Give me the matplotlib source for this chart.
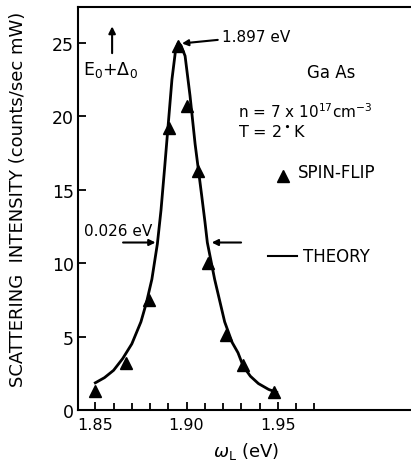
import matplotlib
matplotlib.use('Agg')
import matplotlib.pyplot as plt

# spin-flip data points (triangles)
sf_x = [1.850, 1.8667, 1.8794, 1.8904, 1.8954, 1.9001, 1.9065, 1.9118, 1.9218, 1.9309, 1.9479]
sf_y = [1.3, 3.2, 7.5, 19.2, 24.8, 20.7, 16.3, 10.0, 5.1, 3.05, 1.2]

# theory curve
th_x = [1.850, 1.855, 1.860, 1.865, 1.870, 1.875, 1.878, 1.881, 1.884, 1.886, 1.888,
        1.890, 1.892, 1.894, 1.8955, 1.897, 1.8992, 1.9019, 1.9047, 1.9083, 1.9101,
        1.9114, 1.9154, 1.9209, 1.925, 1.9282, 1.931, 1.935, 1.9394, 1.945, 1.9494]
th_y = [1.85, 2.2, 2.7, 3.5, 4.5, 6.0, 7.3, 8.9, 11.3, 13.6, 16.5,
        19.5, 22.5, 24.5, 25.0, 24.8, 24.1, 21.4, 18.1, 14.6, 12.8,
        11.4, 8.9, 6.0, 4.6, 3.9, 3.0, 2.3, 1.8, 1.4, 1.2]

x_major = [1.85, 1.90, 1.95]
x_minor = [1.86, 1.87, 1.88, 1.89, 1.91, 1.92, 1.93, 1.94, 1.96, 1.97]
y_major = [0, 5, 10, 15, 20, 25]

fig = plt.figure(figsize=(4.11, 4.64), dpi=100)
ax = fig.add_axes([78 / 411, 53 / 464, 332 / 411, 403 / 464])

ax.plot(th_x, th_y, color='black', lw=2.0)
ax.plot(sf_x, sf_y, '^', color='black', ms=8.5)

ax.set_xlim(1.8405, 2.0225)
ax.set_ylim(0, 27.43)

ax.spines['right'].set_visible(False)
for s in ['left', 'top', 'bottom']:
    ax.spines[s].set_linewidth(1.5)

ax.set_xticks(x_major)
ax.set_xticklabels(['1.85', '1.90', '1.95'])
ax.set_xticks(x_minor, minor=True)
ax.set_yticks(y_major)
ax.tick_params(axis='x', which='major', direction='in', length=6, width=1.3, labelsize=11.5, pad=5)
ax.tick_params(axis='x', which='minor', direction='in', length=5, width=1.3)
ax.tick_params(axis='y', direction='in', length=6, width=1.3, labelsize=12.5, pad=3)

ax.set_ylabel('SCATTERING  INTENSITY (counts/sec mW)', fontsize=13)
ax.yaxis.set_label_coords(-0.155, 0.525)
ax.set_xlabel(r'$\omega_\mathrm{L}$ (eV)', fontsize=13)
ax.xaxis.set_label_coords(0.507, -0.075)

# E0 + Delta0 marker
ax.annotate('', xy=(1.8592, 26.3), xytext=(1.8592, 24.1),
            arrowprops=dict(arrowstyle='-|>', color='black', lw=1.5, mutation_scale=10))
ax.text(1.8432, 23.2, r'E$_0$+$\Delta_0$', fontsize=12.5, va='center', ha='left')

# peak label
ax.annotate('1.897 eV', xy=(1.8975, 24.95), xytext=(1.9194, 25.45),
            fontsize=11, va='center', ha='left',
            arrowprops=dict(arrowstyle='-|>', color='black', lw=1.5,
                            mutation_scale=9, shrinkA=1, shrinkB=0))

# FWHM arrows
ax.annotate('', xy=(1.8830, 11.4), xytext=(1.8652, 11.4),
            arrowprops=dict(arrowstyle='-|>', color='black', lw=1.5, mutation_scale=9,
                            shrinkA=0, shrinkB=0))
ax.annotate('', xy=(1.9138, 11.4), xytext=(1.9299, 11.4),
            arrowprops=dict(arrowstyle='-|>', color='black', lw=1.5, mutation_scale=9,
                            shrinkA=0, shrinkB=0))
ax.text(1.8438, 12.2, '0.026 eV', fontsize=11, va='center', ha='left')

ax.text(1.9795, 23.0, 'Ga As', fontsize=12, va='center', ha='center')
ax.text(1.9282, 20.4, r'n = 7 x 10$^{17}$cm$^{-3}$', fontsize=11, va='center', ha='left')
ax.text(1.9282, 19.0, 'T = 2$^\\bullet$K', fontsize=11.5, va='center', ha='left')

ax.plot([1.9527], [15.9], '^', color='black', ms=8)
ax.text(1.961, 16.2, 'SPIN-FLIP', fontsize=12, va='center', ha='left')
ax.plot([1.9446, 1.9605], [10.45, 10.45], color='black', lw=1.5)
ax.text(1.9638, 10.45, 'THEORY', fontsize=12, va='center', ha='left')

fig.savefig('out.png', dpi=100)
